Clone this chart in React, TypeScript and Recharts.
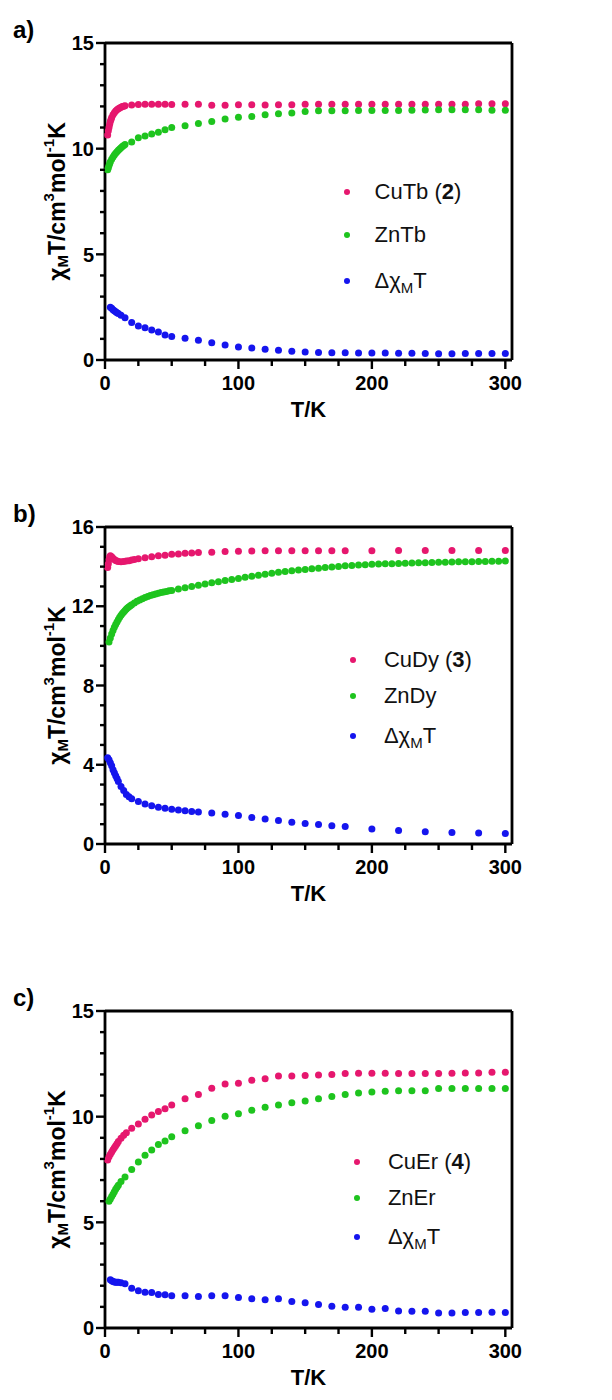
import { ScatterChart, Scatter, XAxis, YAxis, ReferenceLine } from "recharts"

// ---------- a) CuTb / ZnTb ----------
const cuTbT = [2, 2.5, 3, 3.5, 4, 4.5, 5, 6, 7, 8, 9, 10, 11, 12, 13, 14, 15, 20, 25, 30, 35, 40, 45, 50, 60, 70, 80, 90, 100, 110, 120, 130, 140, 150, 160, 170, 180, 190, 200, 210, 220, 230, 240, 250, 260, 270, 280, 290, 300]
const cuTbV = [10.65, 10.85, 11.0, 11.15, 11.28, 11.38, 11.47, 11.6, 11.7, 11.78, 11.84, 11.89, 11.93, 11.96, 11.99, 12.01, 12.03, 12.07, 12.09, 12.1, 12.1, 12.1, 12.1, 12.09, 12.1, 12.1, 12.05, 12.06, 12.08, 12.08, 12.07, 12.08, 12.08, 12.1, 12.1, 12.1, 12.1, 12.1, 12.1, 12.1, 12.1, 12.1, 12.1, 12.1, 12.1, 12.1, 12.12, 12.12, 12.12]

const znTbT = [2, 2.5, 3, 3.5, 4, 5, 6, 7, 8, 9, 10, 11, 12, 13, 14, 15, 20, 25, 30, 35, 40, 45, 50, 60, 70, 80, 90, 100, 110, 120, 130, 140, 150, 160, 170, 180, 190, 200, 210, 220, 230, 240, 250, 260, 270, 280, 290, 300]
const znTbV = [9.0, 9.1, 9.2, 9.3, 9.38, 9.5, 9.6, 9.7, 9.78, 9.85, 9.92, 9.98, 10.04, 10.1, 10.15, 10.2, 10.32, 10.52, 10.6, 10.69, 10.78, 10.9, 11.0, 11.09, 11.19, 11.28, 11.4, 11.49, 11.52, 11.6, 11.65, 11.69, 11.76, 11.79, 11.8, 11.8, 11.81, 11.81, 11.81, 11.81, 11.82, 11.83, 11.84, 11.84, 11.84, 11.84, 11.82, 11.82]

const dTbT = [4, 5, 6, 7, 8, 9, 10, 12, 15, 20, 25, 30, 35, 40, 45, 50, 60, 70, 80, 90, 100, 110, 120, 130, 140, 150, 160, 170, 180, 190, 200, 210, 220, 230, 240, 250, 260, 270, 280, 290, 300]
const dTbV = [2.5, 2.45, 2.38, 2.33, 2.28, 2.24, 2.2, 2.12, 2.0, 1.77, 1.61, 1.53, 1.42, 1.32, 1.18, 1.11, 1.03, 0.93, 0.82, 0.71, 0.62, 0.57, 0.51, 0.46, 0.41, 0.38, 0.35, 0.34, 0.34, 0.33, 0.33, 0.33, 0.32, 0.32, 0.31, 0.3, 0.3, 0.31, 0.31, 0.31, 0.31]

// ---------- b) CuDy / ZnDy ----------
const cuDyT = [2, 2.5, 3, 3.5, 4, 5, 6, 7, 8, 9, 10, 12, 14, 16, 18, 20, 22, 25, 30, 35, 40, 45, 50, 55, 60, 65, 70, 80, 90, 100, 110, 120, 130, 140, 150, 160, 170, 180, 200, 220, 240, 260, 280, 300]
const cuDyV = [13.95, 14.15, 14.35, 14.48, 14.55, 14.5, 14.42, 14.36, 14.31, 14.28, 14.26, 14.25, 14.26, 14.28, 14.3, 14.33, 14.36, 14.4, 14.45, 14.5, 14.55, 14.58, 14.62, 14.64, 14.67, 14.69, 14.71, 14.73, 14.76, 14.78, 14.79, 14.8, 14.8, 14.8, 14.8, 14.8, 14.8, 14.8, 14.8, 14.81, 14.81, 14.81, 14.81, 14.81]

const znDyT = [3, 4, 5, 6, 7, 8, 9, 10, 11, 12, 13, 14, 15, 16, 17, 18, 19, 20, 22, 24, 26, 28, 30, 32, 34, 36, 38, 40, 42, 44, 46, 48, 50, 55, 60, 65, 70, 75, 80, 85, 90, 95, 100, 105, 110, 115, 120, 125, 130, 135, 140, 145, 150, 155, 160, 165, 170, 175, 180, 185, 190, 195, 200, 205, 210, 215, 220, 225, 230, 235, 240, 245, 250, 255, 260, 265, 270, 275, 280, 285, 290, 295, 300]
const znDyV = [10.2, 10.4, 10.6, 10.78, 10.94, 11.08, 11.21, 11.33, 11.44, 11.54, 11.63, 11.71, 11.79, 11.86, 11.92, 11.98, 12.03, 12.08, 12.17, 12.25, 12.32, 12.38, 12.44, 12.49, 12.54, 12.58, 12.62, 12.66, 12.69, 12.72, 12.75, 12.78, 12.8, 12.87, 12.93, 13.0, 13.06, 13.12, 13.18, 13.24, 13.3, 13.35, 13.4, 13.46, 13.52, 13.57, 13.62, 13.67, 13.71, 13.75, 13.79, 13.83, 13.86, 13.89, 13.92, 13.95, 13.98, 14.01, 14.04, 14.06, 14.08, 14.1, 14.12, 14.13, 14.14, 14.15, 14.16, 14.17, 14.18, 14.19, 14.2, 14.21, 14.22, 14.22, 14.23, 14.24, 14.24, 14.25, 14.26, 14.26, 14.27, 14.27, 14.28]

const dDyT = [2, 3, 4, 5, 6, 7, 8, 9, 10, 12, 14, 16, 18, 20, 25, 30, 35, 40, 45, 50, 55, 60, 65, 70, 80, 90, 100, 110, 120, 130, 140, 150, 160, 170, 180, 200, 220, 240, 260, 280, 300]
const dDyV = [4.35, 4.25, 4.1, 3.95, 3.75, 3.6, 3.45, 3.3, 3.15, 2.9, 2.7, 2.5, 2.38, 2.28, 2.15, 2.02, 1.93, 1.85, 1.8, 1.76, 1.72, 1.68, 1.64, 1.62, 1.56, 1.5, 1.44, 1.34, 1.26, 1.18, 1.1, 1.04, 0.98, 0.92, 0.88, 0.76, 0.68, 0.62, 0.58, 0.56, 0.53]

// ---------- c) CuEr / ZnEr ----------
const cuErT = [2, 3, 4, 5, 6, 7, 8, 9, 10, 12, 14, 16, 20, 25, 30, 35, 40, 45, 50, 60, 70, 80, 90, 100, 110, 120, 130, 140, 150, 160, 170, 180, 190, 200, 210, 220, 230, 240, 250, 260, 270, 280, 290, 300]
const cuErV = [7.95, 8.1, 8.22, 8.33, 8.43, 8.53, 8.62, 8.72, 8.82, 8.98, 9.12, 9.24, 9.45, 9.65, 9.88, 10.08, 10.24, 10.38, 10.55, 10.85, 11.05, 11.35, 11.55, 11.58, 11.72, 11.8, 11.92, 11.92, 11.95, 11.97, 12.0, 12.04, 12.05, 12.05, 12.05, 12.04, 12.04, 12.04, 12.04, 12.05, 12.07, 12.07, 12.1, 12.1]

const znErT = [3, 4, 5, 6, 7, 8, 9, 10, 12, 15, 20, 25, 30, 35, 40, 45, 50, 60, 70, 80, 90, 100, 110, 120, 130, 140, 150, 160, 170, 180, 190, 200, 210, 220, 230, 240, 250, 260, 270, 280, 290, 300]
const znErV = [6.0, 6.1, 6.22, 6.33, 6.45, 6.56, 6.66, 6.76, 6.93, 7.15, 7.5, 7.86, 8.18, 8.42, 8.68, 8.85, 9.05, 9.33, 9.57, 9.82, 10.02, 10.14, 10.3, 10.45, 10.55, 10.66, 10.74, 10.85, 10.96, 11.05, 11.12, 11.17, 11.2, 11.23, 11.23, 11.23, 11.33, 11.33, 11.33, 11.33, 11.33, 11.33]

const dErT = [4, 5, 6, 7, 8, 9, 10, 12, 15, 20, 25, 30, 35, 40, 45, 50, 60, 70, 80, 90, 100, 110, 120, 130, 140, 150, 160, 170, 180, 190, 200, 210, 220, 230, 240, 250, 260, 270, 280, 290, 300]
const dErV = [2.28, 2.24, 2.2, 2.18, 2.17, 2.17, 2.16, 2.14, 2.09, 1.88, 1.76, 1.69, 1.68, 1.58, 1.57, 1.53, 1.53, 1.49, 1.53, 1.53, 1.44, 1.38, 1.34, 1.38, 1.25, 1.19, 1.11, 1.03, 0.98, 0.98, 0.89, 0.92, 0.81, 0.79, 0.79, 0.71, 0.71, 0.73, 0.73, 0.74, 0.73]

// ---------- axes ----------
const xTicks = [0, 25, 50, 75, 100, 125, 150, 175, 200, 225, 250, 275, 300]
const yTicks15 = [0, 1, 2, 3, 4, 5, 6, 7, 8, 9, 10, 11, 12, 13, 14, 15]
const yTicks16 = [0, 1, 2, 3, 4, 5, 6, 7, 8, 9, 10, 11, 12, 13, 14, 15, 16]

const PINK = "#e6176e"
const GREEN = "#1ec41e"
const BLUE = "#1515ee"
const FONT = "Arial, 'Liberation Sans', Helvetica, sans-serif"

const W = 612
const H = 484
const PLOT_L = 105
const PLOT_R = 512
const PLOT_T = 43
const PLOT_B = 360
const X_MAX = 305

const zip = (ts: number[], vs: number[]) => ts.map((t, i) => ({ t, v: vs[i] }))

const Dot = (color: string) => (p: any) => <circle cx={p.cx} cy={p.cy} r={3.5} fill={color} />

function XTick({ x, y, payload }: any) {
  const major = payload.value % 100 === 0
  return (
    <g>
      <line x1={x} x2={x} y1={y} y2={y + (major ? 9 : 6)} stroke="#000" strokeWidth={2.4} />
      {major && (
        <text x={x} y={y + 30} textAnchor="middle" fontSize={20} fontWeight="bold" fontFamily={FONT} fill="#000">
          {payload.value}
        </text>
      )}
    </g>
  )
}

const makeYTick = (step: number) => ({ x, y, payload }: any) => {
  const major = payload.value % step === 0
  return (
    <g>
      <line x1={x - (major ? 9 : 5)} x2={x} y1={y} y2={y} stroke="#000" strokeWidth={2.4} />
      {major && (
        <text x={x - 11} y={y} dy="0.36em" textAnchor="end" fontSize={20} fontWeight="bold" fontFamily={FONT} fill="#000">
          {payload.value}
        </text>
      )}
    </g>
  )
}

function YTitle({ viewBox }: any) {
  const cx = 57
  const cy = viewBox.y + viewBox.height / 2
  return (
    <text
      x={cx}
      y={cy}
      transform={`rotate(-90, ${cx}, ${cy})`}
      textAnchor="middle"
      dominantBaseline="central"
      fontSize={23}
      fontWeight="bold"
      fontFamily={FONT}
      fill="#000"
    >
      <tspan>χ</tspan>
      <tspan fontSize={15} dy={5}>M</tspan>
      <tspan dy={-5}>T/cm</tspan>
      <tspan fontSize={15} dy={-9}>3</tspan>
      <tspan dy={9}>mol</tspan>
      <tspan fontSize={15} dy={-9}>-1</tspan>
      <tspan dy={9}>K</tspan>
    </text>
  )
}

function XTitle({ viewBox }: any) {
  return (
    <text
      x={viewBox.x + viewBox.width / 2}
      y={viewBox.y + 57}
      textAnchor="middle"
      fontSize={22}
      fontWeight="bold"
      fontFamily={FONT}
      fill="#000"
    >
      T/K
    </text>
  )
}

type Series = { data: { t: number; v: number }[]; color: string; name: string }

function Panel(props: {
  top: number
  tag: string
  yMax: number
  yTicks: number[]
  yStep: number
  series: Series[]
  labels: React.ReactNode[]
  legendT: [number, number]
  legendV: number[]
}) {
  const { top, tag, yMax, yTicks, yStep, series, labels, legendT, legendV } = props
  const px = (t: number) => PLOT_L + (t / X_MAX) * (PLOT_R - PLOT_L)
  const py = (v: number) => PLOT_T + ((yMax - v) / yMax) * (PLOT_B - PLOT_T)
  return (
    <div style={{ position: "absolute", left: 0, top, width: W, height: H }}>
      <ScatterChart width={W} height={H} margin={{ top: PLOT_T, right: W - PLOT_R, bottom: 0, left: 0 }}>
        <XAxis
          type="number"
          dataKey="t"
          domain={[0, X_MAX]}
          ticks={xTicks}
          interval={0}
          height={H - PLOT_B}
          tickSize={0}
          tickMargin={0}
          tickLine={false}
          tick={<XTick />}
          axisLine={{ stroke: "#000", strokeWidth: 2.8 }}
          label={{ content: XTitle }}
        />
        <YAxis
          type="number"
          dataKey="v"
          domain={[0, yMax]}
          ticks={yTicks}
          interval={0}
          width={PLOT_L}
          tickSize={0}
          tickMargin={0}
          tickLine={false}
          tick={makeYTick(yStep)}
          axisLine={{ stroke: "#000", strokeWidth: 2.8 }}
          label={{ content: YTitle }}
        />
        <ReferenceLine y={yMax} stroke="#000" strokeWidth={2.8} />
        <ReferenceLine x={X_MAX} stroke="#000" strokeWidth={2.8} />
        {series.map((s) => (
          <Scatter key={s.name} name={s.name} data={s.data} fill={s.color} shape={Dot(s.color)} isAnimationActive={false} />
        ))}
      </ScatterChart>
      <div
        style={{
          position: "absolute",
          left: 13,
          top: 16,
          fontFamily: FONT,
          fontWeight: "bold",
          fontSize: 24,
          lineHeight: "28px",
        }}
      >
        {tag}
      </div>
      {series.map((s, i) => (
        <div
          key={s.name}
          style={{
            position: "absolute",
            left: 0,
            top: py(legendV[i]),
            width: W,
            height: 0,
          }}
        >
          <span
            style={{
              position: "absolute",
              left: px(legendT[0]) - 3,
              top: -3,
              width: 6,
              height: 6,
              borderRadius: 3,
              background: s.color,
            }}
          />
          <span
            style={{
              position: "absolute",
              left: px(legendT[1]),
              top: -13,
              fontFamily: FONT,
              fontSize: 22,
              lineHeight: "26px",
              whiteSpace: "nowrap",
              color: "#111",
            }}
          >
            {labels[i]}
          </span>
        </div>
      ))}
    </div>
  )
}

const delta = (
  <>
    Δχ<sub style={{ fontSize: 15, verticalAlign: -5, lineHeight: 0 }}>M</sub>T
  </>
)

export default function App() {
  return (
    <div style={{ position: "absolute", left: 0, top: 0, width: W, height: 1400, background: "#fff" }}>
      <Panel
        top={0}
        tag="a)"
        yMax={15}
        yTicks={yTicks15}
        yStep={5}
        series={[
          { data: zip(cuTbT, cuTbV), color: PINK, name: "CuTb" },
          { data: zip(znTbT, znTbV), color: GREEN, name: "ZnTb" },
          { data: zip(dTbT, dTbV), color: BLUE, name: "dTb" },
        ]}
        labels={[<>CuTb (<b>2</b>)</>, "ZnTb", delta]}
        legendT={[181, 202]}
        legendV={[7.94, 5.92, 3.72]}
      />
      <Panel
        top={484}
        tag="b)"
        yMax={16}
        yTicks={yTicks16}
        yStep={4}
        series={[
          { data: zip(cuDyT, cuDyV), color: PINK, name: "CuDy" },
          { data: zip(znDyT, znDyV), color: GREEN, name: "ZnDy" },
          { data: zip(dDyT, dDyV), color: BLUE, name: "dDy" },
        ]}
        labels={[<>CuDy (<b>3</b>)</>, "ZnDy", delta]}
        legendT={[186, 209]}
        legendV={[9.27, 7.46, 5.47]}
      />
      <Panel
        top={968}
        tag="c)"
        yMax={15}
        yTicks={yTicks15}
        yStep={5}
        series={[
          { data: zip(cuErT, cuErV), color: PINK, name: "CuEr" },
          { data: zip(znErT, znErV), color: GREEN, name: "ZnEr" },
          { data: zip(dErT, dErV), color: BLUE, name: "dEr" },
        ]}
        labels={[<>CuEr (<b>4</b>)</>, "ZnEr", delta]}
        legendT={[189, 212]}
        legendV={[7.86, 6.17, 4.3]}
      />
    </div>
  )
}
